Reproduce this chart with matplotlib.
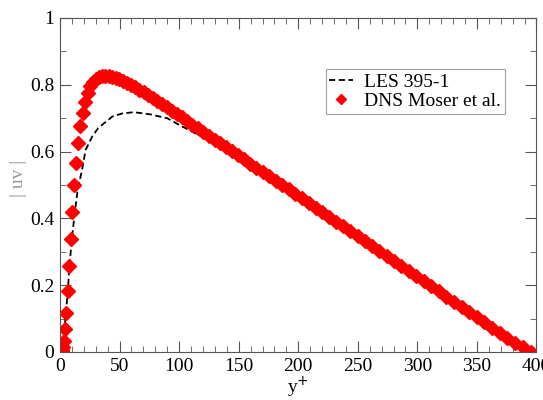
import matplotlib
matplotlib.use('Agg')
import matplotlib.pyplot as plt
from matplotlib.ticker import MultipleLocator

# DNS Moser et al. (Re_tau ~ 395)
dns_yplus = [0, 0.05, 0.21, 0.47, 0.85, 1.32, 1.90, 2.59, 3.38, 4.27,
             5.28, 6.38, 7.59, 8.91, 10.32, 11.84, 13.46, 15.19, 17.01, 18.94,
             20.96, 23.10, 25.32, 27.64, 30.07, 32.59, 35.21, 37.93, 40.74, 43.64,
             46.65, 49.74, 52.92, 56.20, 59.56, 63.03, 66.57, 70.21, 73.92, 77.73,
             81.62, 85.61, 89.66, 93.80, 98.03, 102.33, 106.71, 111.17, 115.69, 120.31,
             124.98, 129.74, 134.57, 139.45, 144.42, 149.45, 154.55, 159.71, 164.93, 170.21,
             175.56, 180.96, 186.42, 191.94, 197.51, 203.13, 208.81, 214.53, 220.30, 226.13,
             231.99, 237.90, 243.85, 249.84, 255.88, 261.94, 268.05, 274.19, 280.35, 286.55,
             292.78, 299.03, 305.32, 311.62, 317.95, 324.31, 330.68, 337.06, 343.45, 349.87,
             356.30, 362.74, 369.18, 375.64, 382.09, 388.56, 395.0]
dns_uv = [0.0, 0.0, 0.0, 0.0002, 0.0005, 0.0015, 0.005, 0.014, 0.034, 0.068,
          0.118, 0.184, 0.257, 0.338, 0.420, 0.500, 0.567, 0.627, 0.677, 0.716,
          0.750, 0.775, 0.795, 0.808, 0.817, 0.823, 0.826, 0.827, 0.826, 0.824,
          0.820, 0.816, 0.811, 0.805, 0.799, 0.792, 0.785, 0.777, 0.769, 0.760,
          0.751, 0.742, 0.733, 0.723, 0.713, 0.703, 0.692, 0.681, 0.670, 0.659,
          0.648, 0.636, 0.625, 0.613, 0.601, 0.589, 0.577, 0.564, 0.552, 0.539,
          0.526, 0.513, 0.500, 0.487, 0.473, 0.460, 0.446, 0.432, 0.418, 0.404,
          0.390, 0.376, 0.361, 0.347, 0.332, 0.318, 0.303, 0.288, 0.273, 0.258,
          0.243, 0.228, 0.213, 0.197, 0.182, 0.166, 0.151, 0.135, 0.120, 0.104,
          0.089, 0.073, 0.058, 0.043, 0.028, 0.014, 0.0]

# LES 395-1
les_yplus = [0, 2, 3, 4.5, 6.5, 8, 10, 12.5, 15, 18.5, 21.5, 27, 32, 37, 44, 52,
             62, 75, 90, 100, 115, 130, 140, 150, 200, 250, 300, 350, 395]
les_uv = [0, 0.01, 0.03, 0.10, 0.18, 0.26, 0.34, 0.42, 0.49, 0.545, 0.605, 0.645,
          0.67, 0.685, 0.705, 0.714, 0.718, 0.712, 0.70, 0.68, 0.652, 0.625, 0.600,
          0.578, 0.462, 0.345, 0.225, 0.105, 0.0]

plt.rcParams['font.family'] = ['Liberation Serif', 'DejaVu Serif']
plt.rcParams['lines.scale_dashes'] = False

fig = plt.figure(figsize=(5.43, 4.0), dpi=100)
ax = fig.add_axes([0.1105, 0.12, 0.8775, 0.835])

ax.plot(les_yplus, les_uv, color='black', lw=1.3, dashes=(4.5, 2.5), label='LES 395-1')
ax.plot(dns_yplus, dns_uv, ls='none', marker='D', ms=7, color='#ff0000',
        mec='#ff0000', label='DNS Moser et al.')

ax.set_xlim(0, 400)
ax.set_ylim(0, 1)
ax.xaxis.set_major_locator(MultipleLocator(50))
ax.xaxis.set_minor_locator(MultipleLocator(10))
ax.yaxis.set_minor_locator(MultipleLocator(0.1))
ax.set_yticks([0, 0.2, 0.4, 0.6, 0.8, 1.0])
ax.set_yticklabels(['0', '0.2', '0.4', '0.6', '0.8', '1'])

for s in ax.spines.values():
    s.set_color('#555555')
ax.tick_params(which='both', direction='in', top=True, right=True,
               color='#555555', labelsize=14, labelcolor='black')
ax.tick_params(which='major', length=8, pad=4)
ax.tick_params(which='minor', length=4.5)

ax.set_xlabel('y$^{+}$', fontsize=14, labelpad=0)
ax.set_ylabel('| uv |', fontsize=14, color='#999999')
ax.yaxis.set_label_coords(-0.07, 0.52)

leg = ax.legend(loc='upper right', bbox_to_anchor=(0.934, 0.847), fontsize=14,
                frameon=True, fancybox=False, edgecolor='#888888',
                handlelength=1.2, handletextpad=0.6, borderpad=0.2,
                labelspacing=0.1, borderaxespad=0, markerscale=0.7)
leg.get_frame().set_linewidth(0.8)

fig.savefig('out.png', dpi=100)
